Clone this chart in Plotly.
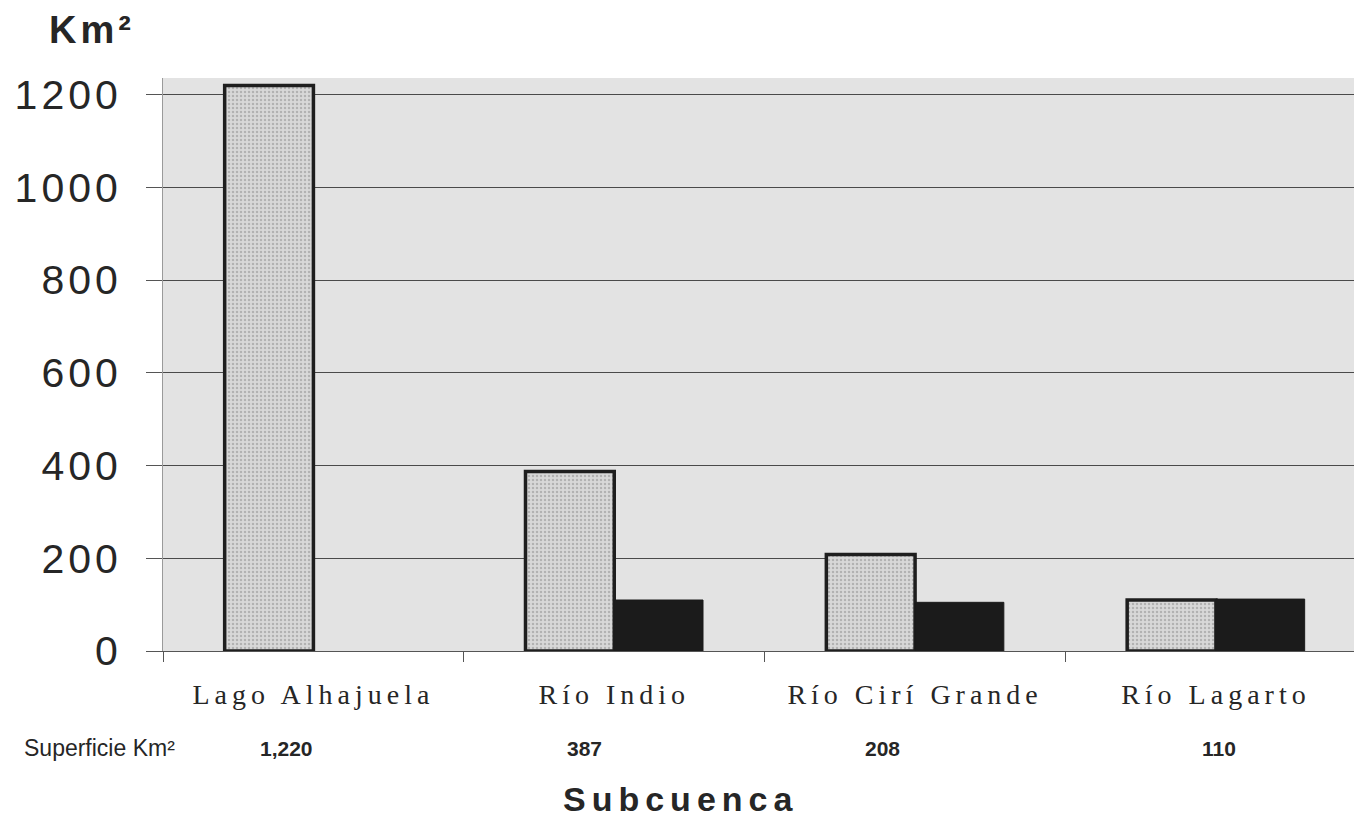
import plotly.graph_objects as go

# Subcuencas y superficies (km²)
categorias = ["Lago Alhajuela", "Río Indio", "Río Cirí Grande", "Río Lagarto"]
superficie = [1220, 387, 208, 110]
serie_oscura = [None, 110, 105, 112]
ticks_y = [0, 200, 400, 600, 800, 1000, 1200]

W, H = 1354, 820
ML, MR, MT, MB = 163, 0, 78, 169
PW, PH = W - ML - MR, H - MT - MB


def paper_x(px):
    return (px - ML) / PW


def paper_y(py):
    return (H - MB - py) / PH


def espaciado(texto, px):
    return f'<span style="letter-spacing:{px}px">{texto}</span>'


fig = go.Figure()

fig.add_trace(go.Bar(
    x=categorias, y=superficie, name="Superficie Km²",
    marker=dict(
        color="#d2d2d2",
        line=dict(color="#1e1e1e", width=3.5),
        pattern=dict(shape=".", fgcolor="#8c8c8c", bgcolor="#d8d8d8",
                     size=4, solidity=0.3),
    ),
    showlegend=False,
))
fig.add_trace(go.Bar(
    x=categorias, y=serie_oscura, name="Serie 2",
    marker=dict(color="#1b1b1b", line=dict(color="#1b1b1b", width=1)),
    showlegend=False,
))

# Fila de valores bajo las categorías
desplaz_valores = [-27, -30, -33, 3]
anotaciones = [dict(
    x=c, y=paper_y(748), xref="x", yref="paper", xshift=s,
    xanchor="center", yanchor="middle",
    text=f"<b>{v:,}</b>", showarrow=False,
    font=dict(family="Liberation Sans", size=21, color="#262626"),
) for c, v, s in zip(categorias, superficie, desplaz_valores)]

anotaciones += [
    dict(x=paper_x(22), y=paper_y(748), xref="paper", yref="paper",
         xanchor="left", yanchor="middle",
         text="Superficie Km²", showarrow=False,
         font=dict(family="Liberation Sans", size=23, color="#262626")),
    dict(x=paper_x(92), y=paper_y(30), xref="paper", yref="paper",
         xanchor="center", yanchor="middle",
         text=f"<b>{espaciado('Km²', 4)}</b>", showarrow=False,
         font=dict(family="Liberation Sans", size=38, color="#262626")),
    dict(x=paper_x(680), y=paper_y(799), xref="paper", yref="paper",
         xanchor="center", yanchor="middle",
         text=f"<b>{espaciado('Subcuenca', 6)}</b>", showarrow=False,
         font=dict(family="Liberation Sans", size=34, color="#262626")),
]

fig.update_layout(
    width=W, height=H,
    margin=dict(l=ML, r=MR, t=MT, b=MB, pad=0),
    paper_bgcolor="white",
    plot_bgcolor="#e3e3e3",
    barmode="group",
    bargap=0.41,
    bargroupgap=0,
    annotations=anotaciones,
    xaxis=dict(
        range=[-0.5, 3.459],
        tickmode="array",
        tickvals=categorias,
        ticktext=[espaciado(c, 5) for c in categorias],
        tickson="boundaries",
        ticks="outside", ticklen=10, tickwidth=1, tickcolor="#555",
        showline=True, linecolor="#555", linewidth=1,
        showgrid=False,
        ticklabelstandoff=18,
        tickfont=dict(family="Liberation Serif", size=28, color="#262626"),
    ),
    yaxis=dict(
        range=[0, 1236],
        tickmode="array",
        tickvals=ticks_y,
        ticktext=[espaciado(str(t), 4) for t in ticks_y],
        ticks="outside", ticklen=16, tickwidth=1, tickcolor="#555",
        showgrid=True, gridcolor="#4a4a4a", gridwidth=1,
        zeroline=False,
        showline=True, linecolor="#9a9a9a", linewidth=1,
        ticklabelstandoff=16,
        tickfont=dict(family="Liberation Sans", size=41, color="#262626"),
    ),
)

fig.write_html("out.html")
